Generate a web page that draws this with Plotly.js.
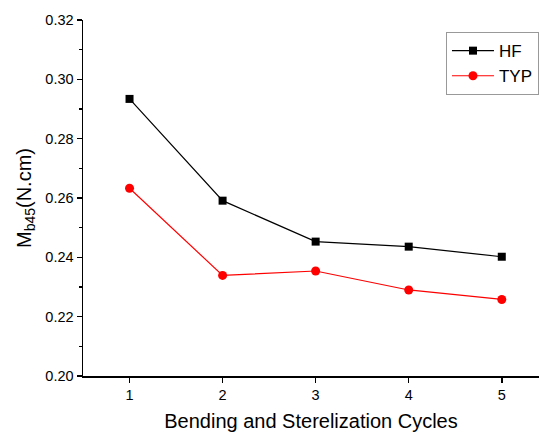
<!DOCTYPE html>
<html>
<head>
<meta charset="utf-8">
<script src="https://cdn.plot.ly/plotly-3.0.1.min.js"></script>
<style>html,body{margin:0;padding:0;background:#fff;}#chart{width:539px;height:435px;}</style>
</head>
<body>
<div id="chart"></div>
<script>
var cycles = [1, 2, 3, 4, 5];
var hfValues = [0.2934, 0.2591, 0.2453, 0.2436, 0.2402];
var typValues = [0.2633, 0.2339, 0.2354, 0.2290, 0.2258];
var yTickVals = [0.20, 0.22, 0.24, 0.26, 0.28, 0.30, 0.32];
var yTickText = ["0.20", "0.22", "0.24", "0.26", "0.28", "0.30", "0.32"];

var traces = [
  {x: cycles, y: hfValues, name: "HF", mode: "lines+markers", type: "scatter",
   line: {color: "#000000", width: 1.2}, marker: {symbol: "square", size: 8, color: "#000000"}},
  {x: cycles, y: typValues, name: "TYP", mode: "lines+markers", type: "scatter",
   line: {color: "#ff0000", width: 1.2}, marker: {symbol: "circle", size: 9, color: "#ff0000"}}
];

var layout = {
  width: 539, height: 435,
  margin: {l: 83, r: 0, t: 20, b: 59},
  paper_bgcolor: "#ffffff", plot_bgcolor: "#ffffff",
  font: {family: "Liberation Sans, Arial, sans-serif", color: "#000000"},
  showlegend: true,
  legend: {x: 0.796, y: 0.966, xanchor: "left", yanchor: "top",
    bordercolor: "#999999", borderwidth: 1, bgcolor: "#ffffff",
    font: {size: 17, family: "Liberation Sans, Arial, sans-serif"}, tracegroupgap: 0, itemwidth: 42},
  xaxis: {
    range: [0.5, 5.4], tickvals: cycles, ticktext: ["1","2","3","4","5"],
    showgrid: false, zeroline: false, showline: true, linecolor: "#000000", linewidth: 1.5,
    ticks: "outside", ticklen: 5, tickwidth: 1.5, tickcolor: "#000000",
    tickfont: {size: 14.5}, fixedrange: true,
    title: {text: "Bending and Sterelization Cycles", font: {size: 20}, standoff: 12}
  },
  yaxis: {
    range: [0.20, 0.32], tickvals: yTickVals, ticktext: yTickText,
    showgrid: false, zeroline: false, showline: true, linecolor: "#000000", linewidth: 1.5,
    ticks: "outside", ticklen: 5, tickwidth: 1.5, tickcolor: "#000000",
    tickfont: {size: 14.5},
    minor: {dtick: 0.01, tick0: 0.2, ticks: "outside", ticklen: 3, tickwidth: 1.5, tickcolor: "#000000", showgrid: false},
    title: {text: "M<sub>b45</sub>(N.cm)", font: {size: 20}, standoff: 8}
  }
};

Plotly.newPlot("chart", traces, layout, {displayModeBar: false, staticPlot: true});
</script>
</body>
</html>
